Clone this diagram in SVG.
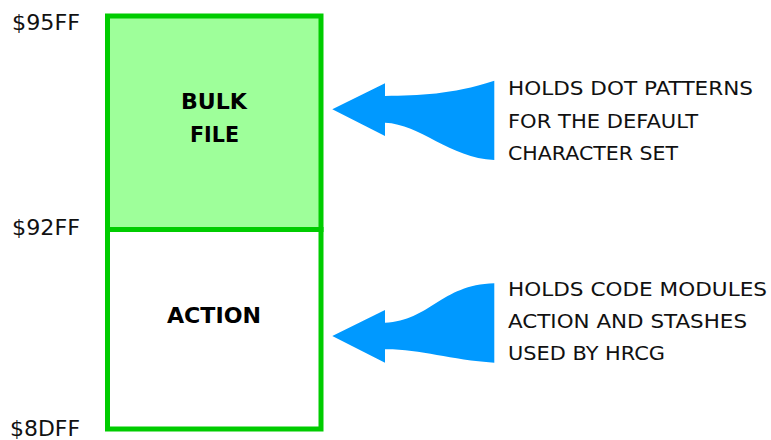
<svg xmlns="http://www.w3.org/2000/svg" width="771" height="440" viewBox="0 0 771 440">
<style>
.addr{font-family:"DejaVu Sans","Open Sans",sans-serif;font-size:22px;fill:#111}
.note{font-family:"DejaVu Sans","Open Sans",sans-serif;font-size:19.5px;fill:#111}
.blk{font-family:"DejaVu Sans","Open Sans",sans-serif;font-size:21.5px;font-weight:bold;fill:#000}
.box{stroke:#00cc00;stroke-width:5}
.arrow{fill:#0099ff}
</style>
<rect width="771" height="440" fill="#fff"/>
<g id="addresses">
<text class="addr" x="12" y="30" textLength="68" lengthAdjust="spacingAndGlyphs">$95FF</text>
<text class="addr" x="12" y="235" textLength="68" lengthAdjust="spacingAndGlyphs">$92FF</text>
<text class="addr" x="10" y="435.5" textLength="70" lengthAdjust="spacingAndGlyphs">$8DFF</text>
</g>
<g id="bulk-file">
<rect class="box" x="107.5" y="16" width="213.5" height="213.5" fill="#9eff9a"/>
<text class="blk" x="181" y="108.5" textLength="66" lengthAdjust="spacingAndGlyphs">BULK</text>
<text class="blk" x="190" y="141.5" textLength="49" lengthAdjust="spacingAndGlyphs">FILE</text>
</g>
<g id="action">
<rect class="box" x="107.5" y="229.5" width="213.5" height="199.5" fill="#fff"/>
<text class="blk" x="167" y="322.5" textLength="94" lengthAdjust="spacingAndGlyphs">ACTION</text>
</g>
<g id="connectors">
<path class="arrow" d="M332.3,109.3 L385,83.3 L385,96 C420,95 450,95 494.3,80.7 L494.3,160 C450,158 420,124 385,122.7 L385,136 Z"/>
<path class="arrow" d="M332.3,336 L385,310 L385,322.7 C430,321 440,285 494.3,283.3 L494.3,362.7 C450,360 420,349 385,349.3 L385,362.7 Z"/>
</g>
<g id="note-bulk">
<text class="note" x="508" y="95" textLength="245" lengthAdjust="spacingAndGlyphs">HOLDS DOT PATTERNS</text>
<text class="note" x="508" y="127.5" textLength="190" lengthAdjust="spacingAndGlyphs">FOR THE DEFAULT</text>
<text class="note" x="508" y="159.5" textLength="170" lengthAdjust="spacingAndGlyphs">CHARACTER SET</text>
</g>
<g id="note-action">
<text class="note" x="508" y="296" textLength="259" lengthAdjust="spacingAndGlyphs">HOLDS CODE MODULES</text>
<text class="note" x="508" y="328" textLength="239" lengthAdjust="spacingAndGlyphs">ACTION AND STASHES</text>
<text class="note" x="508" y="360" textLength="157" lengthAdjust="spacingAndGlyphs">USED BY HRCG</text>
</g>
</svg>
